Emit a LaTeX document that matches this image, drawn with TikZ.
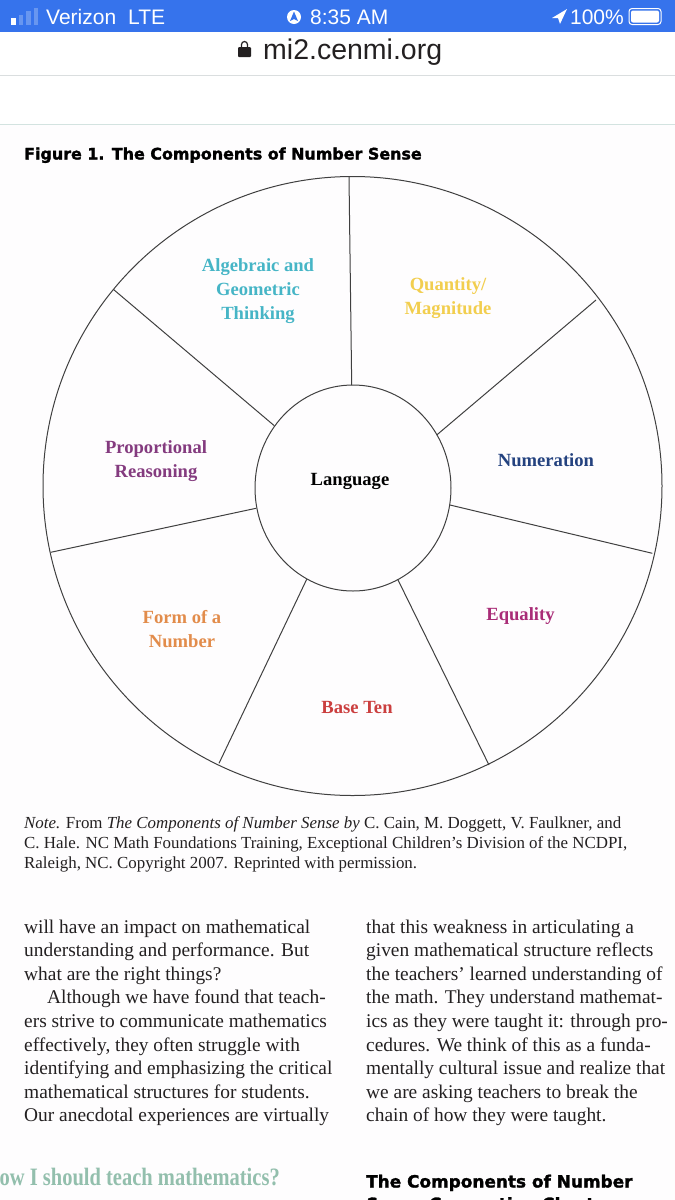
\documentclass[tikz,border=0pt]{standalone}
\usetikzlibrary{shapes.geometric}
\usepackage{fontspec}
\setmainfont{Liberation Serif}
\newfontfamily\uifont{Liberation Sans}
\newfontfamily\headfont[FakeBold=1.6]{DejaVu Sans Bold}
\newfontfamily\pullfont[FakeStretch=0.82]{Liberation Serif Bold}
\definecolor{barblue}{HTML}{3673EC}
\definecolor{rulegray}{HTML}{DADEDF}
\definecolor{rulegreen}{HTML}{D3E3E0}
\definecolor{pagepink}{HTML}{FEFDFE}
\definecolor{inktext}{HTML}{232021}
\definecolor{cteal}{HTML}{46B5C6}
\definecolor{cyellow}{HTML}{F2CE4E}
\definecolor{cnavy}{HTML}{24427F}
\definecolor{cmag}{HTML}{A92C77}
\definecolor{cred}{HTML}{CB3F3F}
\definecolor{corange}{HTML}{E28C4B}
\definecolor{cpurple}{HTML}{843B7F}
\definecolor{cgreen}{HTML}{93BFAD}
\tikzset{
  x=1pt,y=-1pt,
  spoke/.style={draw=black!75,line width=1pt},
  wheel/.style={ellipse,draw=black!75,line width=1pt,inner sep=0pt},
  seg/.style={font=\fontsize{18.6}{24}\selectfont\bfseries,align=center,inner sep=0pt},
  body/.style={font=\fontsize{19.4}{23.6}\selectfont,color=inktext,anchor=base west,inner sep=0pt},
  note/.style={font=\fontsize{16.9}{20}\selectfont,color=inktext,anchor=base west,inner sep=0pt},
  head/.style={font=\headfont\fontsize{15.9}{20}\selectfont,color=black,anchor=base west,inner sep=0pt},
  headb/.style={font=\headfont\fontsize{16.9}{22}\selectfont,color=black,anchor=base west,inner sep=0pt},
  bar/.style={font=\uifont\fontsize{21}{24}\selectfont,color=white,inner sep=0pt},
}
\begin{document}
\begin{tikzpicture}
\useasboundingbox (0,0) rectangle (675,1200);
\fill[white] (0,0) rectangle (675,1200);
\fill[pagepink] (0,125) rectangle (675,1200);
\fill[barblue] (0,0) rectangle (675,32);
\fill[white] (11,18) rectangle (15.5,25);
\fill[white,opacity=.25] (18.5,15) rectangle (23,25);
\fill[white,opacity=.25] (26,11) rectangle (30.5,25);
\fill[white,opacity=.25] (33.5,8) rectangle (38,25);
\node[bar,anchor=west] (carrier) at (46,17) {Verizon};
\node[bar,anchor=west] (lte) at (128,17) {LTE};
\fill[white] (294,17) circle (7);
\fill[barblue] (294,11.5) -- (298,21) -- (294,19) -- (290,21) -- cycle;
\node[bar,anchor=west] (clock) at (310,17) {8:35 AM};
\fill[white] (552,18) -- (567,9) -- (560,24) -- (558,18) -- cycle;
\node[bar,anchor=east] (pct) at (624,17) {100\%};
\draw[white,rounded corners=3pt,line width=1pt] (629,8.5) rectangle (661,24.5);
\fill[white,rounded corners=2pt] (631,10.5) rectangle (659,22.5);
\fill[inktext,rounded corners=1pt] (238,47) rectangle (251,57);
\draw[inktext,line width=1.2pt] (241.5,48) -- (241.5,44.5) arc (180:360:3) -- (247.5,48);
\node[font=\uifont\fontsize{28.5}{32}\selectfont,color=inktext,anchor=base west,inner sep=0pt] (site) at (263,59) {mi2.cenmi.org};
\draw[rulegray,line width=1pt] (0,75.5) -- (675,75.5);
\draw[rulegreen,line width=1pt] (0,124.5) -- (675,124.5);
\node[head] (title) at (24,159.5) {Figure 1. The Components of Number Sense};
\node[wheel,minimum width=619pt,minimum height=619pt] (outer) at (352.5,486) {};
\node[wheel,minimum width=196pt,minimum height=206pt,fill=pagepink] (inner) at (353,488) {};
\coordinate (o1) at (349,177); \coordinate (i1) at (351.7,385);
\coordinate (o2) at (596,300); \coordinate (i2) at (436.7,435);
\coordinate (o3) at (652.3,553.3); \coordinate (i3) at (450,505);
\coordinate (o4) at (489,765); \coordinate (i4) at (397.7,579.3);
\coordinate (o5) at (219,763.3); \coordinate (i5) at (306.7,579.3);
\coordinate (o6) at (50.7,552.3);  \coordinate (i6) at (256,508.3);
\coordinate (o7) at (113.3,289.3); \coordinate (i7) at (274.3,425.7);
\foreach \n in {1,...,7}{\draw[spoke] (o\n) -- (i\n);}
\node[seg,color=cteal] (s1) at (258,291.5) {Algebraic and\\Geometric\\Thinking};
\node[seg,color=cyellow] (s2) at (448,298.5) {Quantity/\\Magnitude};
\node[seg,color=cnavy] (s3) at (546,460) {Numeration};
\node[seg,color=cmag] (s4) at (520.5,616) {Equality};
\node[seg,color=cred] (s5) at (357,707) {Base Ten};
\node[seg,color=corange] (s6) at (182,629) {Form of a\\Number};
\node[seg,color=cpurple] (s7) at (156,461.5) {Proportional\\Reasoning};
\node[seg,color=black] (s8) at (350,481) {Language};
\node[note] (n1) at (24,828.5) {\textit{Note.} From \textit{The Components of Number Sense by} C. Cain, M. Doggett, V. Faulkner, and};
\node[note] (n2) at (24,848.5) {C. Hale. NC Math Foundations Training, Exceptional Children’s Division of the NCDPI,};
\node[note] (n3) at (24,868.5) {Raleigh, NC. Copyright 2007. Reprinted with permission.};
\node[body] (a1) at (24,933) {will have an impact on mathematical};
\node[body] (a2) at (24,956.6) {understanding and performance. But};
\node[body] (a3) at (24,980.2) {what are the right things?};
\node[body] (a4) at (47,1003.8) {Although we have found that teach-};
\node[body] (a5) at (24,1027.4) {ers strive to communicate mathematics};
\node[body] (a6) at (24,1051) {effectively, they often struggle with};
\node[body] (a7) at (24,1074.6) {identifying and emphasizing the critical};
\node[body] (a8) at (24,1098.2) {mathematical structures for students.};
\node[body] (a9) at (24,1121.8) {Our anecdotal experiences are virtually};
\node[body] (b1) at (366,933) {that this weakness in articulating a};
\node[body] (b2) at (366,956.6) {given mathematical structure reflects};
\node[body] (b3) at (366,980.2) {the teachers’ learned understanding of};
\node[body] (b4) at (366,1003.8) {the math. They understand mathemat-};
\node[body] (b5) at (366,1027.4) {ics as they were taught it: through pro-};
\node[body] (b6) at (366,1051) {cedures. We think of this as a funda-};
\node[body] (b7) at (366,1074.6) {mentally cultural issue and realize that};
\node[body] (b8) at (366,1098.2) {we are asking teachers to break the};
\node[body] (b9) at (366,1121.8) {chain of how they were taught.};
\node[font=\pullfont\fontsize{25}{28}\selectfont,color=cgreen,anchor=base east,inner sep=0pt] (pull) at (280,1185) {ow I should teach mathematics?};
\node[headb] (h2) at (366,1187.5) {The Components of Number};
\begin{scope}
\clip (0,1150) rectangle (675,1200);
\node[headb] (h3) at (366,1210) {Sense Connection Chart};
\end{scope}
\end{tikzpicture}
\end{document}
